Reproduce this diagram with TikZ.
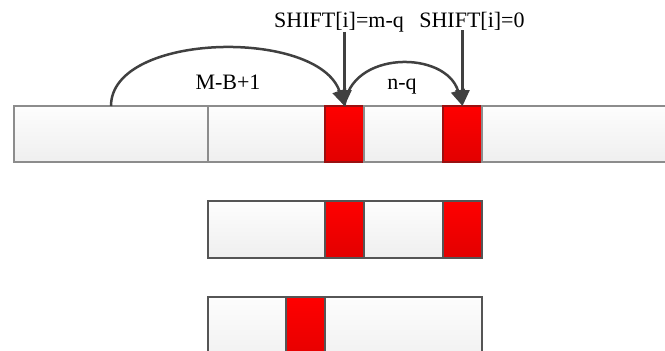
\documentclass[tikz,border=0pt]{standalone}
\usepackage{fontspec}
\setmainfont{Liberation Serif}
\usetikzlibrary{arrows.meta}
\definecolor{arr}{HTML}{404040}
\definecolor{cellTop}{HTML}{FDFDFD}
\definecolor{cellBot}{HTML}{EFEFEF}
\definecolor{redTop}{HTML}{FF0000}
\definecolor{redBot}{HTML}{E20000}
\definecolor{lineA}{HTML}{8C8C8C}
\definecolor{lineB}{HTML}{555555}
\definecolor{redLine}{HTML}{9A1010}
\tikzset{
  cellbox/.style={draw=#1, line width=1.3pt, top color=cellTop, bottom color=cellBot,
    inner sep=0pt, outer sep=0pt, anchor=north west},
  redbox/.style={draw=#1, line width=1.3pt, top color=redTop, bottom color=redBot,
    inner sep=0pt, outer sep=0pt, anchor=north west},
  lbl/.style={inner sep=0pt, anchor=base, font=\fontsize{22}{26}\selectfont},
  conn/.style={draw=arr, line width=2.5pt, -{Triangle[length=16pt,width=14pt]}},
}
\begin{document}
\begin{tikzpicture}[x=1pt,y=-1pt]
\useasboundingbox (0,0) rectangle (665,351);
\clip (0,0) rectangle (665,351);
% top row
\node[cellbox=lineA, minimum width=194pt, minimum height=56pt] (a1) at (14,106) {};
\node[cellbox=lineA, minimum width=117pt, minimum height=56pt] (a2) at (208,106) {};
\node[redbox=redLine, minimum width=39pt, minimum height=56pt] (ar1) at (325,106) {};
\node[cellbox=lineA, minimum width=79pt, minimum height=56pt] (a3) at (364,106) {};
\node[redbox=redLine, minimum width=39pt, minimum height=56pt] (ar2) at (443,106) {};
\node[cellbox=lineA, minimum width=220pt, minimum height=56pt] (a4) at (482,106) {};
% middle row
\node[cellbox=lineB, minimum width=117pt, minimum height=57pt] (b1) at (208,201) {};
\node[redbox=lineB, minimum width=39pt, minimum height=57pt] (br1) at (325,201) {};
\node[cellbox=lineB, minimum width=79pt, minimum height=57pt] (b2) at (364,201) {};
\node[redbox=lineB, minimum width=39pt, minimum height=57pt] (br2) at (443,201) {};
% bottom row
\node[cellbox=lineB, minimum width=78pt, minimum height=70pt] (c1) at (208,297) {};
\node[redbox=lineB, minimum width=39pt, minimum height=70pt] (cr1) at (286,297) {};
\node[cellbox=lineB, minimum width=157pt, minimum height=70pt] (c2) at (325,297) {};
% labels
\node[lbl] (t1) at (339,27) {SHIFT[i]=m-q};
\node[lbl] (t2) at (472,27) {SHIFT[i]=0};
\node[lbl] (t3) at (228,89) {M-B+1};
\node[lbl] (t4) at (402,89) {n-q};
% connectors
\coordinate (s1) at (111,106);
\draw[conn] (s1) .. controls (111,32) and (318,28) .. (ar1.north);
\draw[conn] (ar1.north) .. controls (350,50) and (446,50) .. (ar2.north);
\draw[conn] (ar1.north |- t1.south) -- (ar1.north);
\draw[conn] (ar2.north |- t2.south) -- (ar2.north);
\end{tikzpicture}
\end{document}
